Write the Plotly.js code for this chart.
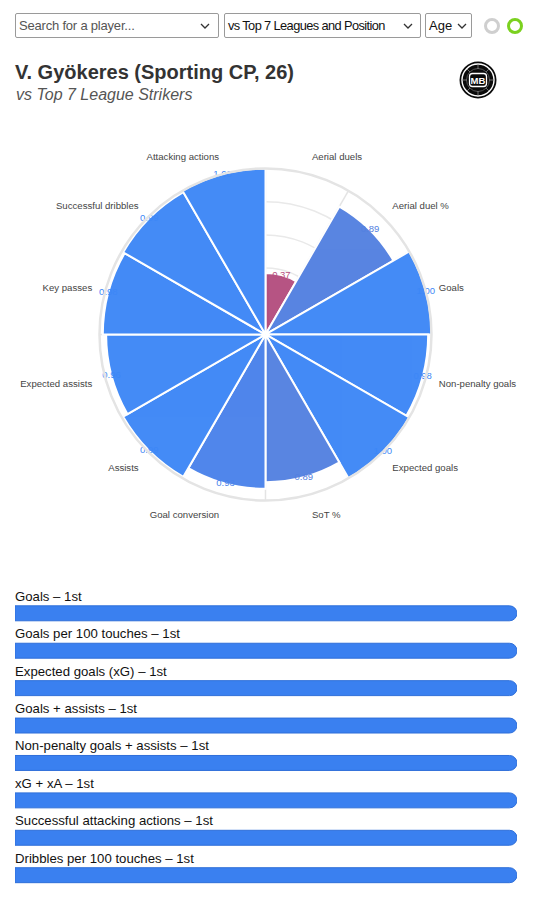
<!DOCTYPE html>
<html>
<head>
<meta charset="utf-8">
<script src="https://cdn.plot.ly/plotly-3.0.1.min.js"></script>
<style>
  html, body { margin:0; padding:0; background:#fff; width:538px; height:900px; overflow:hidden; font-family:"Liberation Sans", Arial, sans-serif; }
  #chart { position:absolute; left:0; top:0; width:538px; height:900px; }
  .ctl { position:absolute; top:13px; height:25px; box-sizing:border-box; border:1px solid #9a9a9a; border-radius:2px; background:#fff; font-size:13px; line-height:23px; padding-left:3px; color:#111; z-index:5; white-space:nowrap; overflow:hidden; }
  .ctl svg { position:absolute; top:8px; }
  .ring { position:absolute; top:18px; width:16px; height:16px; box-sizing:border-box; border-radius:50%; border:3px solid; z-index:5; }
  #logo { position:absolute; left:459px; top:61px; z-index:5; }
</style>
</head>
<body>
<div id="chart"></div>
<div class="ctl" style="left:15px;width:204px;color:#555;letter-spacing:-0.2px;">Search for a player...<svg width="10" height="8" style="left:184px"><path d="M1 2 L5 6 L9 2" fill="none" stroke="#333" stroke-width="1.3"/></svg></div>
<div class="ctl" style="left:224px;width:197px;font-size:12.8px;letter-spacing:-0.6px;">vs Top 7 Leagues and Position<svg width="10" height="8" style="left:178px"><path d="M1 2 L5 6 L9 2" fill="none" stroke="#333" stroke-width="1.3"/></svg></div>
<div class="ctl" style="left:425px;width:47px;">Age<svg width="10" height="8" style="left:31px"><path d="M1 2 L5 6 L9 2" fill="none" stroke="#333" stroke-width="1.3"/></svg></div>
<div class="ring" style="left:484px;border-color:#cfcfcf;"></div>
<div class="ring" style="left:507px;border-color:#7bd11f;"></div>
<svg id="logo" width="38" height="38" viewBox="0 0 38 38">
  <circle cx="19" cy="19" r="18.5" fill="#0a0a0a"/>
  <circle cx="19" cy="19" r="16" fill="none" stroke="#fff" stroke-width="1.4"/>
  <circle cx="19" cy="19" r="11.5" fill="none" stroke="#666" stroke-width="0.8"/>
  <path d="M19 3.5 L19 8 M19 30 L19 34.5 M3.5 19 L8 19 M30 19 L34.5 19 M8 8 L11 11 M30 8 L27 11 M8 30 L11 27 M30 30 L27 27" stroke="#888" stroke-width="0.8"/>
  <rect x="10.5" y="12.5" width="17" height="13" rx="3" fill="#0a0a0a" stroke="#fff" stroke-width="1.3"/>
  <text x="19" y="23" text-anchor="middle" font-family="Liberation Sans, Arial" font-weight="bold" font-size="9.5" fill="#fff">MB</text>
</svg>
<script>
// ---- Data ----
const categories = ['Aerial duels','Aerial duel %','Goals','Non-penalty goals','Expected goals','SoT %','Goal conversion','Assists','Expected assists','Key passes','Successful dribbles','Attacking actions'];
const values = [0.37, 0.89, 1.00, 0.98, 1.00, 0.89, 0.93, 0.99, 0.96, 0.98, 0.99, 1.00];
const valueLabels = ['0.37','0.89','1.00','0.98','1.00','0.89','0.93','0.99','0.96','0.98','0.99','1.00'];

const barLabels = ['Goals','Goals per 100 touches','Expected goals (xG)','Goals + assists','Non-penalty goals + assists','xG + xA','Successful attacking actions','Dribbles per 100 touches'];
const barRanks = ['1st','1st','1st','1st','1st','1st','1st','1st'];
const barPercentiles = [1, 1, 1, 1, 1, 1, 1, 1];

// ---- Styles ----
const FONT = 'Liberation Sans, Arial, sans-serif';
const stops = [[0.0,[196,70,118]],[0.37,[182,80,128]],[0.89,[83,128,224]],[0.93,[74,131,235]],[0.96,[61,135,246]],[1.0,[61,135,246]]];
function colorFor(v){
  for(let i=1;i<stops.length;i++){
    if(v<=stops[i][0]){
      const a=stops[i-1], b=stops[i]; const t=(v-a[0])/((b[0]-a[0])||1);
      const c=a[1].map((x,k)=>Math.round(x+(b[1][k]-x)*t));
      return 'rgb('+c.join(',')+')';
    }
  }
  return 'rgb('+stops[stops.length-1][1].join(',')+')';
}
const n = categories.length;
const step = 360/n;
const thetas = categories.map((c,i)=>(i+0.5)*step);
const barColors = values.map(colorFor);

const traces = [
  { type:'barpolar', subplot:'polar', r:values, theta:thetas, width:categories.map(()=>step),
    marker:{color:barColors, opacity:0.96, line:{color:'#ffffff', width:2}}, hoverinfo:'skip', showlegend:false },
  { type:'scatterpolar', subplot:'polar', mode:'text', r:values, theta:thetas, text:valueLabels,
    textposition:'middle center', textfont:{family:FONT, size:9.5, color:barColors}, cliponaxis:false, hoverinfo:'skip', showlegend:false },
  { type:'scatterpolar', subplot:'polar2', mode:'markers', r:[], theta:[], hoverinfo:'skip', showlegend:false },
  { type:'bar', orientation:'h', x:barPercentiles, y:barLabels, xaxis:'x', yaxis:'y', width:0.4,
    marker:{color:'#3a80f0', line:{color:'#2f6fd9', width:1}, cornerradius:8}, hoverinfo:'skip', showlegend:false }
];

const polarDomain = {x:[0.1683,0.8297], y:[0.4439,0.8128]};
const layout = {
  width:538, height:900,
  margin:{l:15, r:21, t:0, b:0},
  paper_bgcolor:'#fff', plot_bgcolor:'#fff',
  font:{family:FONT, color:'#333'},
  title:{text:'<b>V. Gyökeres (Sporting CP, 26)</b>', xref:'container', yref:'container', x:15/538, xanchor:'left', y:1-72/900, yanchor:'middle',
    font:{family:FONT, size:20, color:'#333'}},
  polar:{ domain:polarDomain, bgcolor:'#fff',
    radialaxis:{range:[0,1], tickvals:[0.2,0.4,0.6,0.8,1.0], showticklabels:false, ticks:'', showline:false, gridcolor:'#e9e9e9', gridwidth:1.5},
    angularaxis:{type:'linear', rotation:90, direction:'clockwise', tickvals:categories.map((c,i)=>i*step), showticklabels:false, ticks:'',
      gridcolor:'#e4e4e4', gridwidth:1.5, showline:true, linecolor:'#e4e4e4', linewidth:2.5}
  },
  polar2:{ domain:polarDomain, bgcolor:'rgba(0,0,0,0)',
    radialaxis:{range:[0,1], visible:false},
    angularaxis:{type:'linear', rotation:90, direction:'clockwise', tickvals:thetas, ticktext:categories, showgrid:false, showline:false,
      ticks:'outside', ticklen:11, tickcolor:'rgba(0,0,0,0)',
      tickfont:{family:FONT, size:9.6, color:'#444'}}
  },
  xaxis:{domain:[0,1], range:[0,1], visible:false, fixedrange:true},
  yaxis:{domain:[0.00678,0.33933], type:'category', categoryarray:barLabels, range:[barLabels.length-0.5,-0.5], visible:false, fixedrange:true},
  annotations: [
    { xref:'paper', yref:'paper', x:0, xshift:-1, y:1-94/900, xanchor:'left', yanchor:'middle', showarrow:false,
      text:'vs Top 7 League Strikers', font:{family:FONT, size:16, color:'#555', style:'italic'} }
  ].concat(barLabels.map((lab,i)=>({ xref:'x', yref:'y', x:0, y:lab, yshift:17, xshift:-2, xanchor:'left', yanchor:'middle', showarrow:false,
    text: lab+' – '+barRanks[i], font:{family:FONT, size:13.2, color:'#111'} })))
};

Plotly.newPlot('chart', traces, layout, {staticPlot:true, displayModeBar:false});
</script>
</body>
</html>
